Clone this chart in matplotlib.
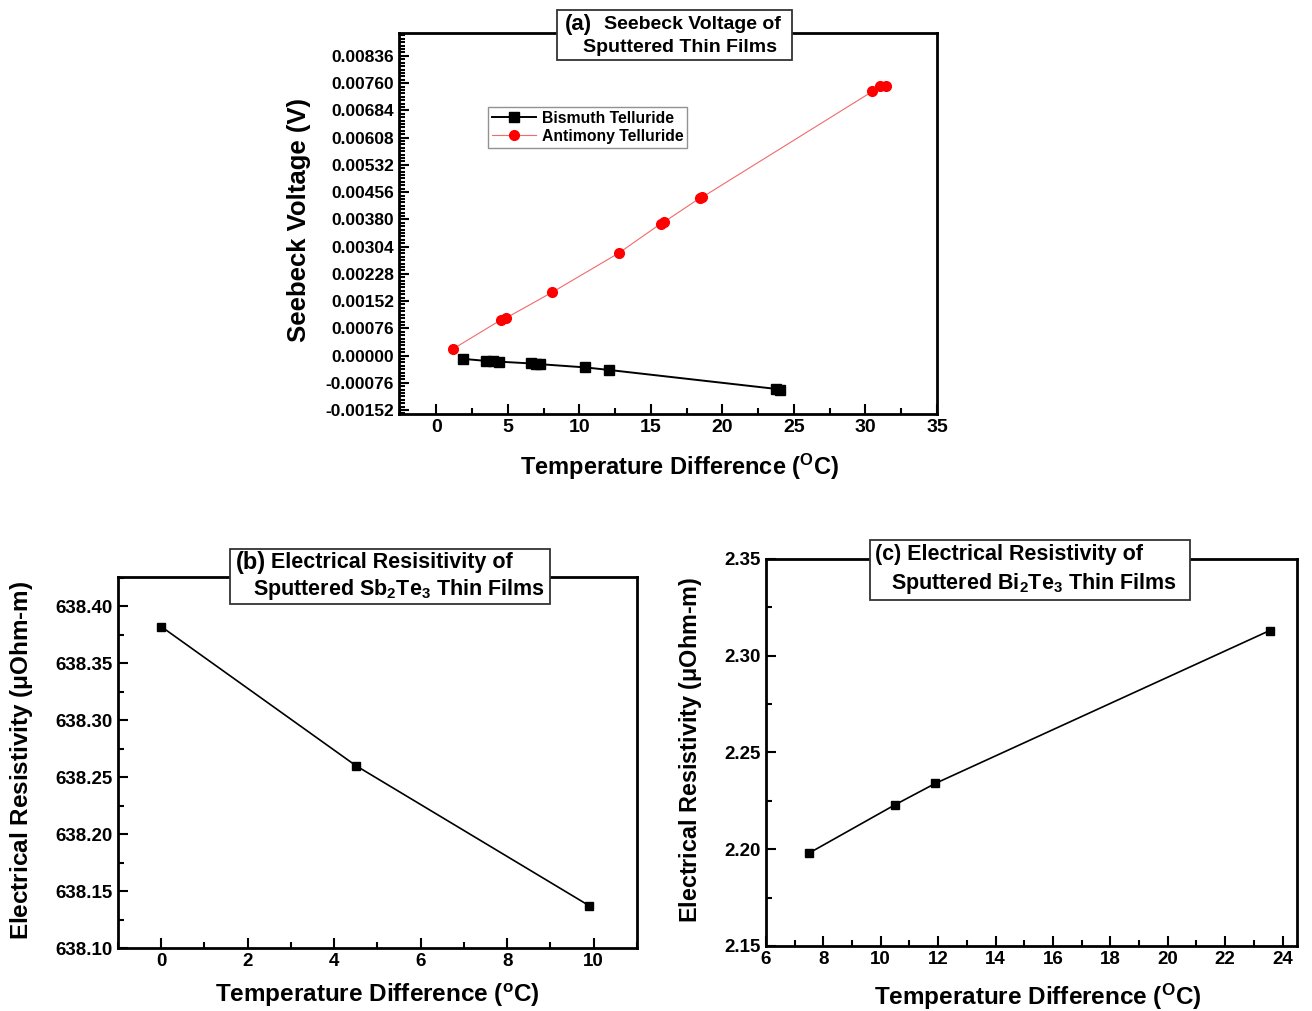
import numpy as np
import matplotlib
matplotlib.use('Agg')
from matplotlib import pyplot as plt
from matplotlib.ticker import MultipleLocator, AutoMinorLocator, FormatStrFormatter
from matplotlib.patches import Rectangle

plt.rcParams['font.family'] = ['Liberation Sans', 'DejaVu Sans']
plt.rcParams['font.weight'] = 'bold'
plt.rcParams['mathtext.fontset'] = 'custom'
plt.rcParams['mathtext.rm'] = 'Liberation Sans:bold'
plt.rcParams['mathtext.bf'] = 'Liberation Sans:bold'
plt.rcParams['mathtext.it'] = 'Liberation Sans:bold'

# (a) Seebeck voltage vs temperature difference
bi_dt = [1.84, 3.5, 3.95, 4.4, 6.65, 6.95, 7.25, 10.42, 12.05, 23.75, 24.05]
bi_v = [-0.00009, -0.00015, -0.00016, -0.00017, -0.00022, -0.00023, -0.00024,
        -0.00033, -0.00040, -0.00093, -0.00095]
sb_dt = [1.16, 4.54, 4.89, 8.08, 12.76, 15.7, 15.9, 18.45, 18.6, 30.49, 31.03, 31.42]
sb_v = [0.00018, 0.00100, 0.00105, 0.00176, 0.00286, 0.00368, 0.00372,
        0.00440, 0.00442, 0.00737, 0.00751, 0.00752]
seebeck_ticks = [k * 0.00076 for k in range(-2, 12)]

# (b) Sb2Te3 resistivity
sb2te3_dt = [0.0, 4.5, 9.9]
sb2te3_rho = [638.382, 638.260, 638.137]

# (c) Bi2Te3 resistivity
bi2te3_dt = [7.5, 10.5, 11.9, 23.55]
bi2te3_rho = [2.198, 2.223, 2.234, 2.313]


def style_axes(ax, lsize=12):
    for s in ax.spines.values():
        s.set_linewidth(2)
    ax.tick_params(which='both', direction='in', top=False, right=False,
                   labelsize=lsize, width=1.5)
    ax.tick_params(which='major', length=7)
    ax.tick_params(which='minor', length=4)
    for lab in ax.get_xticklabels() + ax.get_yticklabels():
        lab.set_fontweight('bold')


def title_box(ax, x0, x1, y0, y1):
    ax.add_patch(Rectangle((x0, y0), x1 - x0, y1 - y0, transform=ax.transAxes,
                           facecolor='white', edgecolor='#333333', lw=1.3,
                           clip_on=False, zorder=10))


fig = plt.figure(figsize=(13.12, 10.11), dpi=100)

# ---- panel (a)
ax = fig.add_axes([0.3041, 0.5905, 0.4101, 0.3769])
ax.plot(bi_dt, bi_v, '-s', color='black', lw=1.4, ms=6.5, label='Bismuth Telluride')
ax.plot(sb_dt, sb_v, '-o', color='#f26a6a', mfc='red', mec='red', lw=0.8, ms=7,
        label='Antimony Telluride')
ax.set_xlim(-2.6, 35)
ax.set_ylim(-0.00163, 0.0090)
ax.xaxis.set_major_locator(MultipleLocator(5))
ax.xaxis.set_minor_locator(AutoMinorLocator(2))
ax.set_yticks(seebeck_ticks)
ax.yaxis.set_major_formatter(FormatStrFormatter('%.5f'))
ax.yaxis.set_minor_locator(AutoMinorLocator(8))
style_axes(ax, 12.5)
ax.tick_params(axis='x', labelsize=14)
ax.set_xlabel(r'Temperature Difference ($^{\mathrm{O}}$C)', fontsize=17, fontweight='bold')
ax.set_ylabel('Seebeck Voltage (V)', fontsize=18.5, fontweight='bold')
ax.xaxis.set_label_coords(0.522, -0.139)
ax.xaxis.label.set_va('center')
ax.yaxis.set_label_coords(-0.186, 0.509)
ax.yaxis.label.set_va('center')
leg = ax.legend(loc='upper left', bbox_to_anchor=(0.165, 0.806), borderaxespad=0,
                prop={'size': 11.3, 'weight': 'bold'}, fancybox=False,
                edgecolor='#777777', handlelength=2.8, borderpad=0.25,
                labelspacing=0.2, handletextpad=0.4)
leg.get_frame().set_linewidth(1.0)
title_box(ax, 0.294, 0.730, 0.929, 1.060)
ax.text(0.333, 1.021, '(a)', transform=ax.transAxes, fontsize=16, fontweight='bold',
        ha='center', va='center', zorder=11)
ax.text(0.545, 1.021, 'Seebeck Voltage of', transform=ax.transAxes, fontsize=14,
        fontweight='bold', ha='center', va='center', zorder=11)
ax.text(0.523, 0.961, 'Sputtered Thin Films', transform=ax.transAxes, fontsize=14,
        fontweight='bold', ha='center', va='center', zorder=11)

# ---- panel (b)
ax = fig.add_axes([0.0899, 0.0623, 0.3956, 0.3670])
ax.plot(sb2te3_dt, sb2te3_rho, '-s', color='black', lw=1.2, ms=6)
ax.set_xlim(-1, 11)
ax.set_ylim(638.10, 638.4255)
ax.xaxis.set_major_locator(MultipleLocator(2))
ax.xaxis.set_minor_locator(AutoMinorLocator(2))
ax.yaxis.set_major_locator(MultipleLocator(0.05))
ax.yaxis.set_minor_locator(AutoMinorLocator(2))
ax.yaxis.set_major_formatter(FormatStrFormatter('%.2f'))
style_axes(ax, 13.5)
ax.set_xlabel(r'Temperature Difference ($^{\mathrm{o}}$C)', fontsize=17.5, fontweight='bold')
ax.set_ylabel(r'Electrical Resistivity ($\mathrm{\mu}$Ohm-m)', fontsize=17.5, fontweight='bold')
ax.xaxis.set_label_coords(0.499, -0.127)
ax.xaxis.label.set_va('center')
ax.yaxis.set_label_coords(-0.185, 0.507)
ax.yaxis.label.set_va('center')
title_box(ax, 0.216, 0.832, 0.927, 1.075)
ax.text(0.228, 1.038, '(b)', transform=ax.transAxes, fontsize=17, fontweight='bold',
        ha='left', va='center', zorder=11)
ax.text(0.294, 1.038, 'Electrical Resisitivity of', transform=ax.transAxes, fontsize=15.5,
        fontweight='bold', ha='left', va='center', zorder=11)
ax.text(0.260, 0.966, r'Sputtered Sb$_{\mathbf{2}}$Te$_{\mathbf{3}}$ Thin Films',
        transform=ax.transAxes, fontsize=15.5, fontweight='bold', ha='left', va='center',
        zorder=11)

# ---- panel (c)
ax = fig.add_axes([0.5838, 0.0643, 0.4047, 0.3828])
ax.plot(bi2te3_dt, bi2te3_rho, '-s', color='black', lw=1.2, ms=6)
ax.set_xlim(6, 24.5)
ax.set_ylim(2.15, 2.35)
ax.xaxis.set_major_locator(MultipleLocator(2))
ax.xaxis.set_minor_locator(AutoMinorLocator(2))
ax.yaxis.set_major_locator(MultipleLocator(0.05))
ax.yaxis.set_minor_locator(AutoMinorLocator(2))
ax.yaxis.set_major_formatter(FormatStrFormatter('%.2f'))
style_axes(ax, 13.5)
ax.set_xlabel(r'Temperature Difference ($^{\mathrm{O}}$C)', fontsize=17.5, fontweight='bold')
ax.set_ylabel(r'Electrical Resistivity ($\mathrm{\mu}$Ohm-m)', fontsize=16.8, fontweight='bold')
ax.xaxis.set_label_coords(0.512, -0.132)
ax.xaxis.label.set_va('center')
ax.yaxis.set_label_coords(-0.143, 0.506)
ax.yaxis.label.set_va('center')
title_box(ax, 0.196, 0.798, 0.894, 1.049)
ax.text(0.206, 1.012, '(c) Electrical Resistivity of', transform=ax.transAxes,
        fontsize=15.5, fontweight='bold', ha='left', va='center', zorder=11)
ax.text(0.235, 0.937, r'Sputtered Bi$_{\mathbf{2}}$Te$_{\mathbf{3}}$ Thin Films',
        transform=ax.transAxes, fontsize=15.5, fontweight='bold', ha='left', va='center',
        zorder=11)

fig.savefig('out.png', dpi=100)
